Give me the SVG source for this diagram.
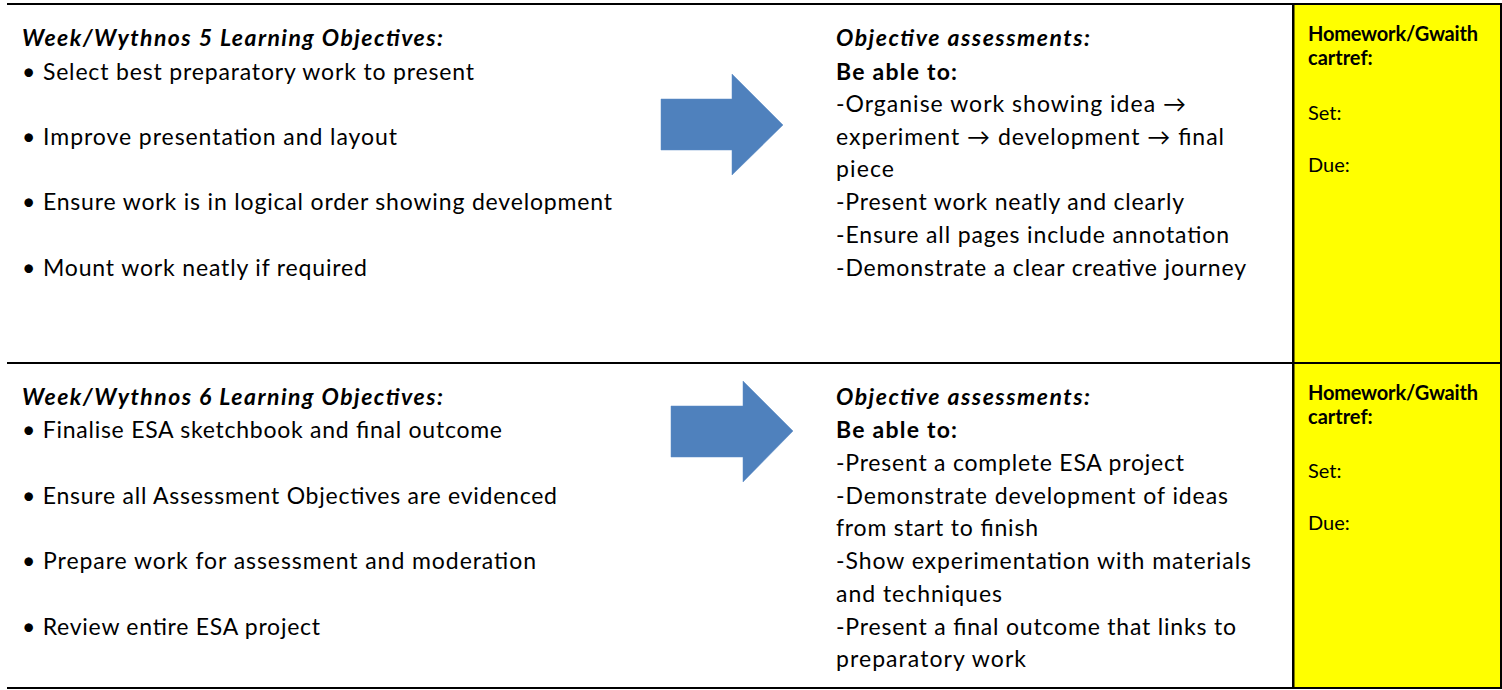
<svg xmlns="http://www.w3.org/2000/svg" width="1502" height="690" viewBox="0 0 1502 690">
<style>
  text { font-family: Lato, "Liberation Sans", "DejaVu Sans", sans-serif; fill: #000; }
  .t { font-size: 23px; }
  .h { font-size: 23px; font-weight: bold; font-style: italic; }
  .b { font-size: 23px; font-weight: bold; }
  .y { font-size: 20px; }
  .yb { font-size: 20px; font-weight: bold; }
  .arrow { fill: #4F81BD; stroke: #5B8AC4; stroke-width: 0.5; }
  .rule { fill: #000; }
</style>
<rect width="1502" height="690" fill="#fff"/>
<g id="grid">
  <rect x="1294" y="4" width="207" height="684" fill="#FFFF00"/>
  <rect class="rule" x="7" y="3" width="1495" height="2"/>
  <rect class="rule" x="7" y="362" width="1495" height="2"/>
  <rect class="rule" x="7" y="687" width="1495" height="2"/>
  <rect class="rule" x="1292" y="3" width="2.5" height="686"/>
  <rect class="rule" x="1500" y="3" width="2" height="686"/>
</g>
<g id="week5-objectives">
  <text class="h" x="22" y="46" textLength="421">Week/Wythnos 5 Learning Objectives:</text>
  <text class="t" x="22" y="79.5" textLength="452">• Select best preparatory work to present</text>
  <text class="t" x="22" y="144.5" textLength="375">• Improve presentation and layout</text>
  <text class="t" x="22" y="210" textLength="590">• Ensure work is in logical order showing development</text>
  <text class="t" x="22" y="275.5" textLength="345">• Mount work neatly if required</text>
</g>
<g id="week5-assessments">
  <text class="h" x="836" y="46" textLength="254">Objective assessments:</text>
  <text class="b" x="836" y="79.5" textLength="121">Be able to:</text>
  <text class="t" x="836" y="112" textLength="350">-Organise work showing idea →</text>
  <text class="t" x="836" y="144.5" textLength="388">experiment → development → final</text>
  <text class="t" x="836" y="177" textLength="58">piece</text>
  <text class="t" x="836" y="210" textLength="348">-Present work neatly and clearly</text>
  <text class="t" x="836" y="242.5" textLength="393">-Ensure all pages include annotation</text>
  <text class="t" x="836" y="275.5" textLength="410">-Demonstrate a clear creative journey</text>
</g>
<g id="week5-homework">
  <text class="yb" x="1308" y="41" textLength="170">Homework/Gwaith</text>
  <text class="yb" x="1308" y="65">cartref:</text>
  <text class="y" x="1308" y="120">Set:</text>
  <text class="y" x="1308" y="172">Due:</text>
</g>
<g id="week6-objectives">
  <text class="h" x="22" y="405" textLength="421">Week/Wythnos 6 Learning Objectives:</text>
  <text class="t" x="22" y="438" textLength="480">• Finalise ESA sketchbook and final outcome</text>
  <text class="t" x="22" y="503.5" textLength="535">• Ensure all Assessment Objectives are evidenced</text>
  <text class="t" x="22" y="569" textLength="514">• Prepare work for assessment and moderation</text>
  <text class="t" x="22" y="634.5" textLength="298">• Review entire ESA project</text>
</g>
<g id="week6-assessments">
  <text class="h" x="836" y="405" textLength="254">Objective assessments:</text>
  <text class="b" x="836" y="438" textLength="121">Be able to:</text>
  <text class="t" x="836" y="471" textLength="348">-Present a complete ESA project</text>
  <text class="t" x="836" y="503.5" textLength="392">-Demonstrate development of ideas</text>
  <text class="t" x="836" y="536" textLength="202">from start to finish</text>
  <text class="t" x="836" y="569" textLength="415">-Show experimentation with materials</text>
  <text class="t" x="836" y="601.5" textLength="166">and techniques</text>
  <text class="t" x="836" y="634.5" textLength="400">-Present a final outcome that links to</text>
  <text class="t" x="836" y="667" textLength="190">preparatory work</text>
</g>
<g id="week6-homework">
  <text class="yb" x="1308" y="400" textLength="170">Homework/Gwaith</text>
  <text class="yb" x="1308" y="424">cartref:</text>
  <text class="y" x="1308" y="478">Set:</text>
  <text class="y" x="1308" y="530">Due:</text>
</g>
<g id="connectors">
  <polygon id="arrow-week5" class="arrow" points="661,99 732,99 732,74 783,125 732,175 732,150 661,150"/>
  <polygon id="arrow-week6" class="arrow" points="671,406 743,406 743,381 793,431 743,482 743,457 671,457"/>
</g>
</svg>
